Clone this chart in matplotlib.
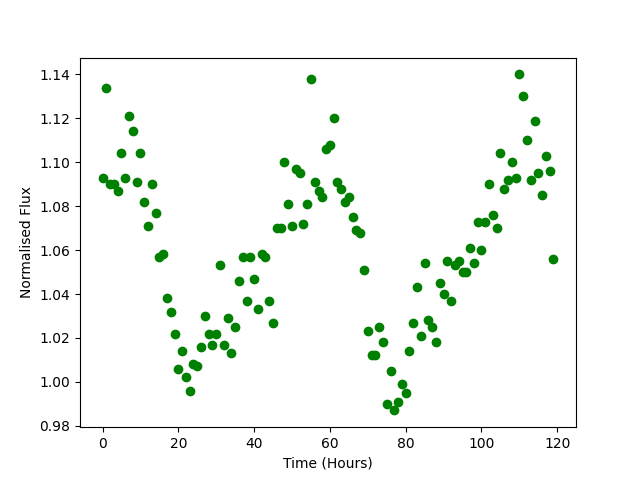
import matplotlib

matplotlib.use("Agg")
import matplotlib.pyplot as plt
import numpy as np

# hourly samples, 0..119
hours = np.arange(120)
flux = [
    1.093, 1.134, 1.090, 1.090, 1.087, 1.104, 1.093, 1.121, 1.114, 1.091,
    1.104, 1.082, 1.071, 1.090, 1.077, 1.057, 1.058, 1.038, 1.032, 1.022,
    1.006, 1.014, 1.002, 0.996, 1.008, 1.007, 1.016, 1.030, 1.022, 1.017,
    1.022, 1.053, 1.017, 1.029, 1.013, 1.025, 1.046, 1.057, 1.037, 1.057,
    1.047, 1.033, 1.058, 1.057, 1.037, 1.027, 1.070, 1.070, 1.100, 1.081,
    1.071, 1.097, 1.095, 1.072, 1.081, 1.138, 1.091, 1.087, 1.084, 1.106,
    1.108, 1.120, 1.091, 1.088, 1.082, 1.084, 1.075, 1.069, 1.068, 1.051,
    1.023, 1.012, 1.012, 1.025, 1.018, 0.990, 1.005, 0.987, 0.991, 0.999,
    0.995, 1.014, 1.027, 1.043, 1.021, 1.054, 1.028, 1.025, 1.018, 1.045,
    1.040, 1.055, 1.037, 1.053, 1.055, 1.050, 1.050, 1.061, 1.054, 1.073,
    1.060, 1.073, 1.090, 1.076, 1.070, 1.104, 1.088, 1.092, 1.100, 1.093,
    1.140, 1.130, 1.110, 1.092, 1.119, 1.095, 1.085, 1.103, 1.096, 1.056,
]

fig, ax = plt.subplots(figsize=(6.4, 4.8), dpi=100)
ax.plot(hours, flux, "o", color="green")
ax.set_xlabel("Time (Hours)")
ax.set_ylabel("Normalised Flux")
fig.savefig("out.png")
